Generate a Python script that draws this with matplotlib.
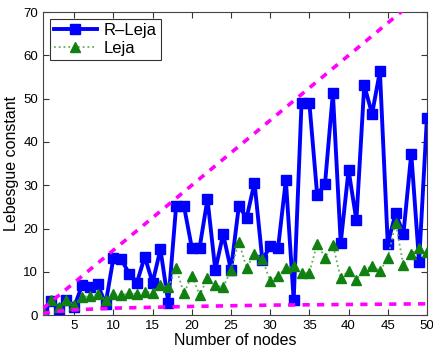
import matplotlib
matplotlib.use("Agg")
import matplotlib.pyplot as plt
import numpy as np

plt.rcParams["font.family"] = ["Liberation Sans", "DejaVu Sans"]

nodes = np.arange(1, 51)

r_leja = [1.0, 3.3, 1.5, 3.4, 1.9, 6.9, 6.4, 7.1, 2.5, 13.2,
          12.9, 9.6, 7.5, 13.5, 7.5, 15.2, 2.9, 25.2, 25.2, 15.6,
          15.6, 26.8, 10.4, 18.7, 10.4, 25.2, 22.5, 30.6, 12.7, 15.9,
          15.4, 31.2, 3.5, 49.0, 49.0, 27.7, 30.4, 51.3, 16.7, 33.5,
          21.9, 53.1, 46.5, 56.3, 16.5, 23.5, 18.8, 37.3, 12.3, 45.6]

leja = [1.0, 3.4, 1.9, 3.5, 2.3, 4.2, 4.4, 4.8, 3.5, 4.8,
        4.6, 5.0, 4.9, 5.4, 5.2, 6.9, 6.4, 10.8, 5.0, 9.1,
        4.6, 8.5, 6.9, 6.4, 10.4, 16.9, 10.9, 14.2, 13.0, 7.8,
        9.1, 10.8, 11.3, 9.8, 9.8, 16.5, 13.3, 16.3, 8.5, 10.2,
        8.2, 10.5, 11.3, 10.2, 13.1, 21.3, 11.5, 14.2, 15.6, 14.5]

# reference curves (upper straight bound, lower slow growth)
upper_x = [1, 50]
upper_y = [1.5, 75.0]
lower_x = [1, 2, 3, 5, 10, 20, 30, 40, 50]
lower_y = [0.3, 0.7, 0.9, 1.2, 1.6, 2.0, 2.3, 2.45, 2.6]

fig = plt.figure(figsize=(4.33, 3.47), dpi=100)
ax = fig.add_axes([0.099, 0.092, 0.887, 0.873])

ax.plot(nodes, r_leja, color="#0000ff", linewidth=2.8, marker="s",
        markersize=6.5, label="R\u2013Leja", zorder=3)
ax.plot(nodes, leja, color="#60b060", linestyle=":", linewidth=1.3,
        marker="^", markersize=7.5, markerfacecolor="#108010",
        markeredgecolor="#108010", label="Leja", zorder=4)
ax.plot(upper_x, upper_y, color="#ff00ff", linestyle=(0, (2, 2)),
        linewidth=2.6, zorder=5)
ax.plot(lower_x, lower_y, color="#ff00ff", linestyle=(0, (2, 2)),
        linewidth=2.6, zorder=5)

ax.set_xlim(1, 50)
ax.set_ylim(0, 70)
ax.set_xticks(range(5, 51, 5))
ax.set_yticks(range(0, 71, 10))
ax.tick_params(direction="in", top=True, right=True, labelsize=9.5,
               length=4, width=0.8, colors="#333333", labelcolor="black")
for s in ax.spines.values():
    s.set_linewidth(0.8)
    s.set_color("#444444")

ax.set_xlabel("Number of nodes", fontsize=11.5, labelpad=1)
ax.set_ylabel("Lebesgue constant", fontsize=11.5, labelpad=3)

leg = ax.legend(loc="upper left", fontsize=12, fancybox=False,
                edgecolor="black", handlelength=2.6, borderaxespad=0.4,
                borderpad=0.25, labelspacing=0.2, handletextpad=0.4)
leg.get_frame().set_linewidth(0.8)

fig.savefig("out.png", dpi=100, facecolor="white")
